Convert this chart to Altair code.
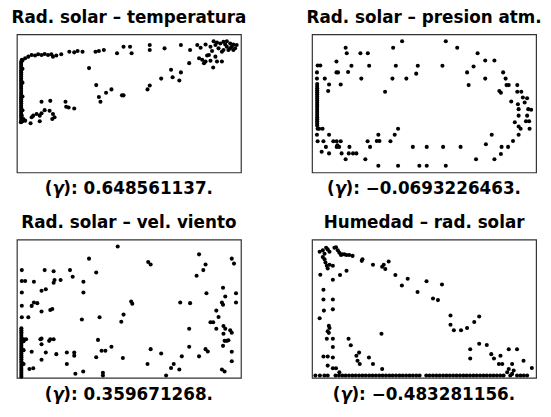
import altair as alt
import pandas as pd

# ---------------- data (arbitrary 0-100 units) ----------------
titles = ["Rad. solar – temperatura", "Rad. solar – presion atm.",
          "Rad. solar – vel. viento", "Humedad – rad. solar"]
gammas = ["0.648561137.", "−0.0693226463.", "0.359671268.", "−0.483281156."]

temp_pts = [
    # vertical strip at night (radiation ~0)
    (1.9, 36.5), (1.9, 38), (1.9, 39.5), (1.9, 41), (1.9, 42.5), (1.9, 44), (1.9, 45.5),
    (1.9, 47), (1.9, 48.5), (1.9, 50), (1.9, 51.5), (1.9, 53), (1.9, 54.5), (1.9, 56),
    (1.9, 57.5), (1.9, 59), (1.9, 60.5), (1.9, 62), (1.9, 63.5), (1.9, 65), (1.9, 66.5),
    (1.9, 68), (1.9, 69.5), (1.9, 71), (1.9, 72.5), (1.9, 74), (1.9, 75.5), (1.9, 77),
    (1.9, 78.5), (1.9, 80), (2.5, 37), (2.5, 45), (2.5, 55), (2.5, 65), (2.5, 75), (2.5, 81),
    # upper branch
    (2.2, 81.5), (3.7, 82.7), (5.1, 83.8), (6.6, 85), (8.1, 84.6), (9.5, 85.5), (11, 85),
    (12.4, 85.7), (13.9, 85), (15.4, 85.5), (16.1, 83.8), (17.6, 84.6), (19.8, 85.5),
    (23.4, 87.4), (25.6, 86.9), (27.1, 87.9), (29.3, 87.4), (35.1, 87.4), (36.6, 87.9),
    (38.8, 88.6), (44.7, 86.2), (47.6, 91), (50.5, 91), (51.2, 86.2), (59.3, 92.2),
    (59.3, 88.6), (65.9, 89.8), (73.2, 92.2), (77.3, 88.6), (80.5, 92.2), (82, 90.3),
    (84.2, 92.6), (86.4, 91), (87.8, 95), (89.3, 94.1), (90.8, 93.3), (92.2, 94.5),
    (93.7, 95), (95.2, 93.3), (95.9, 91), (97.4, 89.8), (98.1, 92.2), (93.7, 91),
    (92.2, 88.6), (91.5, 87.4), (90, 89.8), (88.6, 92.2), (94.4, 88.6), (93, 92.6),
    (96.6, 92.6), (87.1, 87.9), (84.9, 84.6), (95.2, 89.8), (96.6, 88.6),
    # lower right branch
    (76.9, 79.1), (81.3, 82.7), (82.7, 81.5), (83.5, 79.1), (84.2, 80.3), (85.7, 85),
    (86.4, 80.8), (87.6, 76), (89.3, 80.3), (91.5, 80.3), (88.6, 83.8), (68.8, 74.3),
    (69.5, 68.9), (64.4, 67.9), (73.2, 72.4), (72.5, 66.5), (59.3, 62.9), (58.3, 60.1),
    (46.9, 55.8), (47.6, 55.8), (42.2, 60.1), (39.8, 57.7), (36.6, 54.6), (37.3, 51.1),
    (35.4, 63.2), (32.2, 75.5),
    # lower left cluster
    (11, 51.1), (14.9, 51.8), (21.7, 51.1), (22, 47.5), (23.1, 47), (25.6, 46.3),
    (12.4, 45.1), (14.6, 44.7), (16.1, 42.3), (16.8, 39.9), (15.8, 38.7), (11, 42.8),
    (10.2, 41.1), (8.8, 42.3), (7.3, 41.1), (6.6, 39.9), (10.2, 37.1), (6.1, 35.6),
    (3.7, 37.5), (2.9, 38.7), (2.2, 41.1), (1.8, 36.3),
]

pres_pts = [
    (2.3, 34), (2.3, 35.5), (2.3, 37), (2.3, 38.5), (2.3, 40), (2.3, 41.5), (2.3, 43),
    (2.3, 44.5), (2.3, 46), (2.3, 47.5), (2.3, 49), (2.3, 50.5), (2.3, 52), (2.3, 53.5),
    (2.3, 55), (2.3, 56.5), (2.3, 58), (2.3, 59.5), (2.3, 61), (2.3, 62.5), (2.3, 64),
    (2.5, 77.4), (3.7, 77.4), (2.2, 72.4), (5.7, 67.9), (2.2, 67.9), (7.6, 63.7), (7.2, 58.9),
    (15, 90.3), (15.5, 86.2), (10.9, 80.3), (10.9, 72.4), (11.6, 72.4), (12.8, 63.7),
    (16.1, 72.7), (17.6, 77.2), (21.6, 86.2), (24.9, 86.2), (25.5, 77.2), (22, 67.9),
    (32.6, 58.4), (35.9, 67.9), (36.2, 90.3), (37.4, 77.2), (40.2, 95), (42.1, 67.9),
    (46.5, 71.5), (47.2, 77.2), (58.2, 77.2), (59.7, 95), (64.8, 90.3), (69.2, 72.4),
    (69.9, 63.2), (72.1, 76.7), (73.9, 86.2), (77.3, 81), (77.3, 67.9), (81.4, 81),
    (85.3, 72.4), (86.4, 67.9), (86.8, 63.2), (87.8, 63.2), (83.6, 58.9), (84.3, 57.7),
    (88.9, 51.3), (91.6, 63.2), (91.6, 58.4), (93.4, 58.4), (94.1, 54.2), (91.9, 49.4),
    (92.2, 45.8), (96, 53.7), (94.9, 50.6), (96.5, 45.8), (97.8, 45.4), (96, 41.1),
    (95.5, 37.1), (96.9, 37.1), (92.2, 41.1), (90.5, 36.3), (92.2, 33.3), (93.1, 31.6),
    (97.1, 31.6), (92.2, 27.3), (89.7, 22.8), (87.5, 18.5), (84.6, 18.5), (84.3, 13.3),
    (81.4, 9.5), (77.6, 20.4), (80.2, 27.3), (73.2, 9.5), (66.3, 18.5), (58.5, 18.5),
    (59.7, 4.8), (51.2, 18.5), (51.2, 4.8), (47.9, 4.8), (45, 18.5), (38.4, 4.8),
    (29.6, 4.8), (38.4, 31.6), (36.9, 27.3), (35, 22.6), (29.6, 27.3), (28.9, 22.8),
    (30.1, 22.8), (24.8, 22.6), (25.9, 18.5), (23.8, 9.5), (19.8, 13.8), (18.3, 13.8),
    (16.7, 18.5), (16.4, 13.8), (15, 9.5), (13.2, 13.8), (12.1, 18.5), (11, 18.5),
    (11.3, 19.7), (12.8, 22.6), (11, 22.6), (9.5, 22.6), (7.6, 27.3), (7.6, 13.8),
    (6.2, 18.5), (4.3, 15), (5.1, 22.6), (2.5, 22.6), (2.2, 27.3), (3.2, 31.6),
    (4.7, 31.6), (2.5, 31.6),
]

wind_pts = [
    (2, 0.8), (2, 2.2), (2, 3.6), (2, 5), (2, 6.4), (2, 7.8), (2, 9.2), (2, 10.6), (2, 12),
    (2, 13.4), (2, 14.8), (2, 16.2), (2, 17.6), (2, 19), (2, 20.4), (2, 21.8), (2, 23.2),
    (2, 24.6), (2, 26), (2, 27.4), (2, 28.8), (2, 30.2), (2, 31.6), (2, 33), (2, 34.4),
    (2, 35.8), (3, 27.9), (3, 26.5), (3, 20), (3, 10),
    (2.2, 77.9), (2.2, 70), (3.7, 70), (2.2, 61.7), (2.2, 52.1), (2.2, 43.8), (5.1, 43.8),
    (7.6, 69.5), (6.6, 52), (7.6, 54.5), (9.1, 54), (11, 48), (11, 63), (12.9, 64),
    (12.4, 77.9), (14.9, 49), (15.8, 49.8), (16.4, 77.1), (16.8, 70.7), (16.4, 68.8),
    (19.5, 70.7), (23.7, 77.9), (24.9, 73.1), (29.7, 69.5), (29.7, 61.7), (32.2, 86.2),
    (35.4, 76.2), (29, 42.1), (36.9, 43.8), (45, 95), (46.6, 40.5), (47.6, 45.7),
    (51, 55.2), (51.5, 53.6), (58.6, 83.8), (59.7, 81.9), (72.9, 54.5), (77.3, 54),
    (81.3, 89.3), (84.2, 81.9), (83.2, 77.9), (80.2, 73.8), (84.6, 61.2), (76.9, 35.5),
    (76.9, 22.4), (89, 48.6), (90, 44), (92, 65.2), (93, 58.8), (91.5, 54.5), (92, 52.9),
    (97.8, 61.2), (97.8, 54.5), (95.9, 86.2), (96.9, 82.6), (86.4, 40.2), (87.6, 40.2),
    (89, 35.5), (92.2, 37.4), (93, 35.5), (95.2, 34.3), (95.9, 32.6), (92.2, 31.9),
    (92.7, 26.7), (93.7, 26.7), (94.4, 27.1), (92, 23.1), (95.9, 18.8), (95.9, 11.9),
    (91.5, 6), (92.7, 4.5), (84.2, 20.7), (85.2, 19), (81.3, 15.5), (73.6, 15.5),
    (72.5, 6), (68.8, 7.1), (70, 10), (66.6, 1.7), (64.4, 17.6), (59.7, 20.7), (58.3, 10),
    (47.3, 14.3), (42.2, 22.4), (39.5, 19.5), (37.8, 19.5), (35.4, 14.8), (36.2, 27.4),
    (38.4, 3.6), (38.4, 1.7), (29.6, 4.5), (26.1, 2.9), (25.6, 18.3), (25.6, 16),
    (22.3, 18.3), (22.3, 10), (17.6, 17.1), (12.9, 18.3), (11, 13.1), (6.6, 18.8),
    (11, 28.3), (11, 24.3), (10.5, 27.9), (14.9, 27.9), (16.4, 27.9), (14.4, 26.7),
    (7.3, 6.9), (5.6, 6.4), (4.1, 27.9),
]

hum_pts = [
    # top-left cluster and descending branch
    (3.4, 91.2), (4.8, 92.2), (5.6, 89.8), (6.3, 94.1), (7, 92.9), (7.8, 91.2), (10, 94.1),
    (10.7, 94.5), (11.5, 92.2), (12.2, 90.5), (12.9, 88.9), (13.4, 89.3), (14.4, 89.3),
    (15.4, 88.9), (16.6, 88.9), (18.1, 88.2), (4.8, 87.4), (5.6, 85.8), (6, 83.4),
    (6.6, 81), (7.8, 81.8), (9.3, 81), (7, 79.1), (22.5, 85.8), (22.2, 84.6), (27.2, 81.8),
    (31.3, 80.3), (32, 81.8), (32.7, 78.7), (34.2, 84.1), (3.7, 74.6), (9.3, 70.9),
    (12.5, 74.4), (15.4, 77.5), (37.2, 74.4), (40.1, 66.8), (42.7, 71.6), (47.1, 62.1),
    (51.1, 69.9), (54, 57.3), (56.2, 56.2), (58, 67.5), (61.8, 45), (61.8, 38.4),
    (63.3, 34.4), (66.5, 34.4), (69.2, 36), (72.4, 40.3), (74.6, 44.3),
    # left column
    (5.1, 63.7), (5.1, 56.6), (9.3, 56.6), (9.3, 49.5), (5.3, 48.6), (3.4, 43.1),
    (7.5, 37.7), (7.8, 36), (7, 33.6), (6.6, 28.2), (9.3, 28.2), (9.3, 22.3), (7.5, 32.5),
    (5.1, 15.4), (7, 15.4), (9.3, 14.7), (7, 8.8), (9.3, 6.9), (10.7, 6.9), (12.2, 4),
    (16.3, 28.2), (17.3, 23.5), (21, 18.2), (19.8, 15.9), (20.3, 12.3), (21.3, 10),
    (25.4, 14.7), (27.2, 10), (31, 31.8), (31.3, 6.4),
    # lower right
    (70.6, 20.6), (70.6, 14), (74.6, 24.6), (78, 23.7), (80, 17.1), (81.2, 14), (84.1, 15.9),
    (84.9, 10), (83.4, 10), (87.8, 20.6), (89.3, 10), (91.5, 20.6), (94.4, 12.3),
    (98.1, 7.1), (87.1, 4), (90, 5.2), (89.3, 2.8), (87.8, 6.4),
    # bottom row (zero radiation)
    (1.5, 1.6), (3.5, 1.6), (5.5, 1.6), (7, 1.6), (10.5, 1.6), (12, 1.6), (13.5, 1.6),
    (15, 1.6), (16.5, 1.6), (18, 1.6), (19.5, 1.6), (21, 1.6), (22.5, 1.6), (24, 1.6),
    (25.5, 1.6), (27, 1.6), (28.5, 1.6), (30, 1.6), (31.5, 1.6), (33, 1.6), (34.5, 1.6),
    (36, 1.6), (37.5, 1.6), (39, 1.6), (40.5, 1.6), (42, 1.6), (43.5, 1.6), (45, 1.6),
    (46.5, 1.6), (48, 1.6), (51, 1.6), (52.5, 1.6), (54, 1.6), (55.5, 1.6), (57, 1.6),
    (58.5, 1.6), (60, 1.6), (61.5, 1.6), (63, 1.6), (64.5, 1.6), (66, 1.6), (67.5, 1.6),
    (69, 1.6), (70.5, 1.6), (72, 1.6), (73.5, 1.6), (75, 1.6), (76.5, 1.6), (78, 1.6),
    (79.5, 1.6), (81, 1.6), (82.5, 1.6), (84, 1.6), (85.5, 1.6), (88.5, 1.6), (91.5, 1.6),
    (93, 1.6), (94.5, 1.6), (96, 1.6),
]

panels_pts = [temp_pts, pres_pts, wind_pts, hum_pts]

# ---------------- styling ----------------
W, H = 227, 140
FONT = "DejaVu Sans"
FS = 17
CW = {"(": 0.457, ")": 0.457, ":": 0.400, " ": 0.348, ".": 0.380, "−": 0.838}
GAMMA_W = 0.652


def text_w(s):
    return sum(CW.get(c, 0.696) for c in s) * FS


def panel(pts, title, gval):
    df = pd.DataFrame(pts, columns=["x", "y"])
    dots = alt.Chart(df).mark_circle(size=17, color="black", opacity=1).encode(
        x=alt.X("x:Q", scale=alt.Scale(domain=[0, 100]), axis=None),
        y=alt.Y("y:Q", scale=alt.Scale(domain=[0, 100]), axis=None),
    )
    base_txt = dict(font=FONT, fontSize=FS, fontWeight="bold", color="black",
                    baseline="alphabetic")
    ttl = alt.Chart(pd.DataFrame({"t": [title]})).mark_text(align="center", **base_txt).encode(
        text="t:N", x=alt.value(W / 2), y=alt.value(-11.8))
    rest = "): " + gval
    total = text_w("(") + GAMMA_W * FS + text_w(rest)
    x0 = W / 2 - total / 2
    yc = H + 22.3
    c1 = alt.Chart(pd.DataFrame({"t": ["("]})).mark_text(align="left", **base_txt).encode(
        text="t:N", x=alt.value(x0), y=alt.value(yc))
    c2 = alt.Chart(pd.DataFrame({"t": ["γ"]})).mark_text(align="left", fontStyle="italic", **base_txt).encode(
        text="t:N", x=alt.value(x0 + text_w("(")), y=alt.value(yc))
    c3 = alt.Chart(pd.DataFrame({"t": [rest]})).mark_text(align="left", **base_txt).encode(
        text="t:N", x=alt.value(x0 + text_w("(") + GAMMA_W * FS), y=alt.value(yc))
    return alt.layer(dots, ttl, c1, c2, c3).properties(width=W, height=H)


ps = [panel(p, t, g) for p, t, g in zip(panels_pts, titles, gammas)]
chart = alt.concat(*ps, columns=2, spacing={"row": 68, "column": 72}, bounds="flush").properties(
    padding={"left": 2, "top": -3, "right": 0, "bottom": 0}
).configure_view(stroke="#333333", strokeWidth=1.2)

chart.save("out.html", embed_options={"renderer": "svg", "actions": False})
